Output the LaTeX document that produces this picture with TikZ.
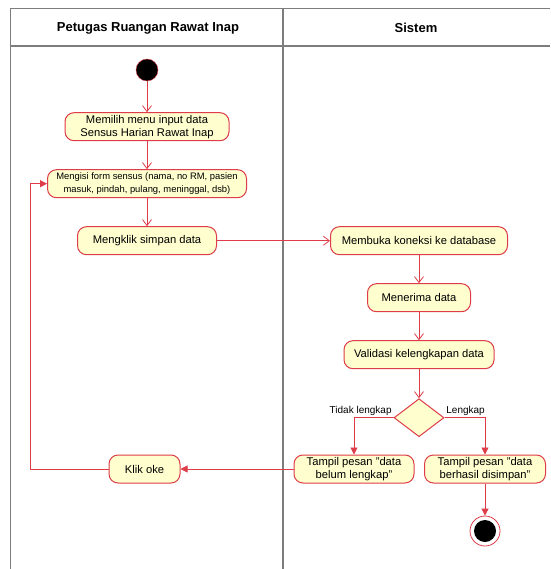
\documentclass[tikz,border=0pt]{standalone}
\usepackage{fontspec}
\setmainfont{Liberation Sans}
\usetikzlibrary{positioning}
\usetikzlibrary{shapes.geometric}
\usetikzlibrary{arrows.meta}

\definecolor{umlred}{RGB}{222,60,72}
\definecolor{umlfill}{RGB}{254,254,206}
\definecolor{lanegray}{RGB}{125,125,125}

\tikzset{
  activity/.style={draw=umlred, fill=umlfill, rounded corners=9pt, line width=1pt,
    align=center, inner sep=2pt, minimum height=28pt, font=\fontsize{11.2}{13}\selectfont},
  flow/.style={draw=umlred, line width=0.8pt, -{Straight Barb[length=6pt,width=9pt]}},
  flowfill/.style={draw=umlred, line width=0.8pt, -{Triangle[length=7pt,width=7pt]}},
  lane/.style={draw=lanegray, line width=1.3pt},
  lanetitle/.style={font=\bfseries\fontsize{13}{15}\selectfont},
  guard/.style={font=\fontsize{10}{12}\selectfont, inner sep=1.5pt},
}

\begin{document}
\begin{tikzpicture}[x=1pt,y=-1pt,node distance=28pt]
    \useasboundingbox (0,0) rectangle (550,569);
    % Swimlanes
    \draw[lane] (550,8.5) -- (10.5,8.5) -- (10.5,569);
    \draw[lane] (10.5,46) -- (550,46);
    \draw[lane] (283,8.5) -- (283,569);
    \node[lanetitle] (petugas) at (148,28) {Petugas Ruangan Rawat Inap};
    \node[lanetitle] (sistem) at (416,28) {Sistem};

    % Place nodes
    \node[circle, fill=black, draw=umlred, minimum size=22pt, inner sep=0] (start) at (147,70) {};
    \node[activity, minimum width=164pt, below=31pt of start] (menu) {Memilih menu input data\\Sensus Harian Rawat Inap};
    \node[activity, minimum width=199pt, font=\fontsize{9.4}{12.5}\selectfont, below=of menu] (isi) {Mengisi form sensus (nama, no RM, pasien\\masuk, pindah, pulang, meninggal, dsb)};
    \node[activity, minimum width=139pt, below=of isi] (simpan) {Mengklik simpan data};
    \node[activity, minimum width=177pt, right=113pt of simpan] (koneksi) {Membuka koneksi ke database};
    \node[activity, minimum width=103pt, below=of koneksi] (terima) {Menerima data};
    \node[activity, minimum width=150pt, below=of terima] (validasi) {Validasi kelengkapan data};
    \node[diamond, draw=umlred, fill=umlfill, line width=1pt, minimum width=50pt, minimum height=38pt, inner sep=0, below=29pt of validasi] (cek) {};
    \node[activity, minimum width=120pt] (belum) at (354,469) {Tampil pesan "data\\belum lengkap"};
    \node[activity, minimum width=121pt] (berhasil) at (485,469) {Tampil pesan "data\\berhasil disimpan"};
    \node[activity, minimum width=71pt, left=113pt of belum] (klik) {Klik oke};
    \node[circle, draw=umlred, fill=white, line width=0.8pt, minimum size=30pt, inner sep=0] (end) at (485,531) {};
    \node[circle, fill=black, minimum size=22pt, inner sep=0] (endin) at (end) {};
    \coordinate (balik) at (30,469);

    % Connectors
    \draw[flow] (start) -- (menu);
    \draw[flow] (menu) -- (isi);
    \draw[flow] (isi) -- (simpan);
    \draw[flow] (simpan) -- (koneksi);
    \draw[flow] (koneksi) -- (terima);
    \draw[flow] (terima) -- (validasi);
    \draw[flow] (validasi) -- (cek);
    \draw[flowfill] (cek.west) -| node[guard, pos=0, above left] {Tidak lengkap} (belum);
    \draw[flowfill] (cek.east) -| node[guard, pos=0, above right] {Lengkap} (berhasil);
    \draw[flowfill] (belum) -- (klik);
    \draw[flowfill] (klik.west) -- (balik) |- (isi.west);
    \draw[flowfill] (berhasil) -- (end);
\end{tikzpicture}
\end{document}
